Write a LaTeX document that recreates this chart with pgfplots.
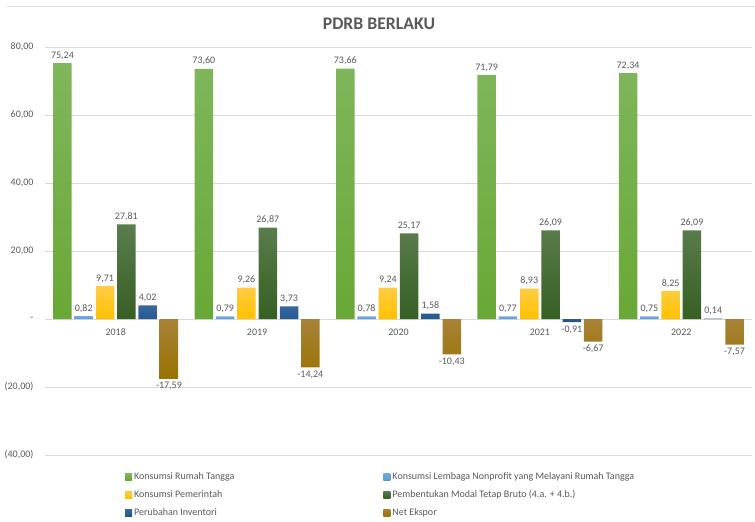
\documentclass[border=0pt]{standalone}
\usepackage{fontspec}
\setmainfont{Carlito}
\usepackage{pgfplots}
\pgfplotsset{compat=1.18}
\definecolor{txt}{RGB}{89,89,89}
\definecolor{gridc}{RGB}{217,217,217}
\definecolor{gA}{RGB}{128,182,92}\definecolor{gB}{RGB}{104,168,54}
\definecolor{bA}{RGB}{115,170,225}\definecolor{bB}{RGB}{91,155,213}
\definecolor{yA}{RGB}{255,205,70}\definecolor{yB}{RGB}{255,192,0}
\definecolor{dA}{RGB}{90,125,78}\definecolor{dB}{RGB}{55,95,35}
\definecolor{nA}{RGB}{55,105,160}\definecolor{nB}{RGB}{35,85,140}
\definecolor{brA}{RGB}{168,130,55}\definecolor{brB}{RGB}{153,115,0}
\begin{document}
\begin{tikzpicture}
\begin{axis}[
  at={(0pt,0pt)}, anchor=south west,
  scale only axis, width=707pt, height=408pt,
  xmin=-0.5, xmax=4.5, ymin=-40, ymax=80,
  ybar=2.8pt, bar width=18.5pt,
  axis line style={draw=none},
  major tick style={draw=none},
  ymajorgrids, grid style={draw=gridc, line width=0.8pt},
  ytick={-40,-20,0,20,40,60,80},
  yticklabels={{(40,00)},{(20,00)},{-},{20,00},{40,00},{60,00},{80,00}},
  xtick={0,1,2,3,4}, xticklabels={2018,2019,2020,2021,2022},
  xticklabel style={yshift=134pt},
  tick label style={font=\fontsize{10}{12}\selectfont, text=txt},
  yticklabel style={xshift=-8pt},
  nodes near coords={\pgfmathprintnumber[fixed,fixed zerofill,precision=2,use comma,assume math mode=true]{\pgfplotspointmeta}},
  every node near coord/.append style={font=\fontsize{10}{12}\selectfont, text=txt},
  legend columns=2, legend cell align=left,
  legend style={at={(axis description cs:0.113,-0.037)}, anchor=north west,
    draw=none, fill=none, font=\fontsize{10}{12}\selectfont, text=txt,
    row sep=5.5pt, inner sep=0pt, /tikz/column 2/.style={column sep=147pt}},
  legend image code/.code={\path[#1, draw=none] (0pt,-3.5pt) rectangle (7pt,3.5pt);},
]
\addplot[draw=none, shading=axis, top color=gA, bottom color=gB] coordinates {(0,75.24) (1,73.60) (2,73.66) (3,71.79) (4,72.34)};
\addplot[draw=none, shading=axis, top color=bA, bottom color=bB] coordinates {(0,0.82) (1,0.79) (2,0.78) (3,0.77) (4,0.75)};
\addplot[draw=none, shading=axis, top color=yA, bottom color=yB] coordinates {(0,9.71) (1,9.26) (2,9.24) (3,8.93) (4,8.25)};
\addplot[draw=none, shading=axis, top color=dA, bottom color=dB] coordinates {(0,27.81) (1,26.87) (2,25.17) (3,26.09) (4,26.09)};
\addplot[draw=none, shading=axis, top color=nA, bottom color=nB] coordinates {(0,4.02) (1,3.73) (2,1.58) (3,-0.91) (4,0.14)};
\addplot[draw=none, shading=axis, top color=brA, bottom color=brB] coordinates {(0,-17.59) (1,-14.24) (2,-10.43) (3,-6.67) (4,-7.57)};
\legend{Konsumsi Rumah Tangga, Konsumsi Lembaga Nonprofit yang Melayani Rumah Tangga, Konsumsi Pemerintah, Pembentukan Modal Tetap Bruto (4.a. + 4.b.), Perubahan Inventori, Net Ekspor}
\end{axis}
\draw[gridc, line width=0.8pt] (-38pt,449pt) -- (710pt,449pt);
\node[font=\bfseries\fontsize{17.7}{20}\selectfont, text=txt, anchor=base] at (334pt,425pt) {PDRB BERLAKU};
\pgfresetboundingbox
\path (-45pt,-67pt) rectangle (710pt,455pt);
\end{tikzpicture}
\end{document}
